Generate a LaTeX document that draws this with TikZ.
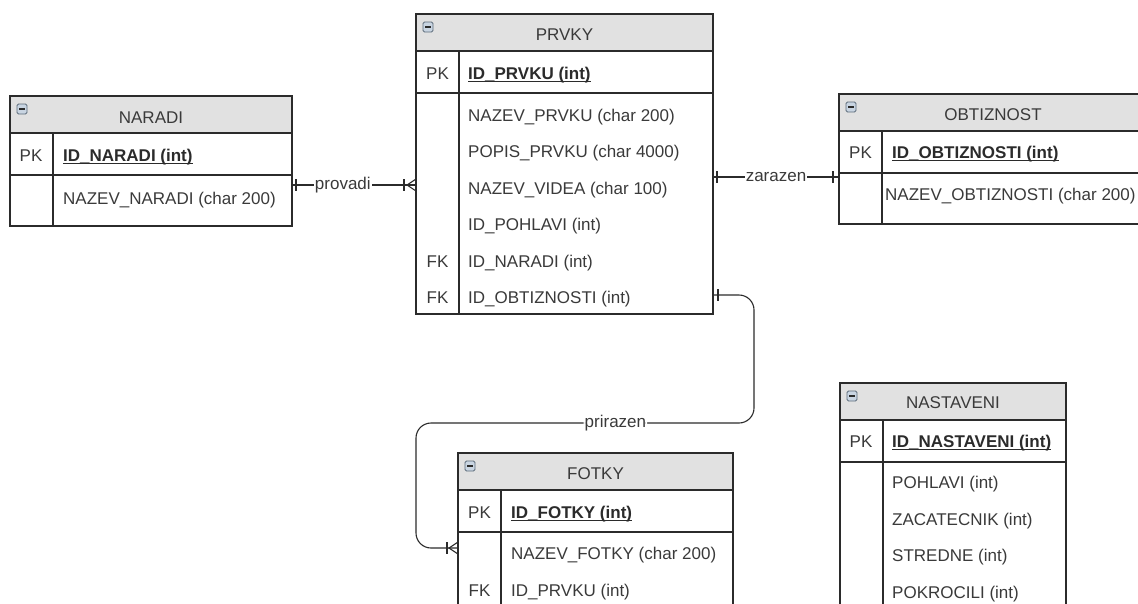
\documentclass[tikz,border=0pt]{standalone}
\usepackage{fontspec}
\setmainfont{Liberation Sans}
\usetikzlibrary{calc}
\definecolor{hdrgray}{HTML}{E1E1E1}
\definecolor{ink}{HTML}{2B2B2B}
\definecolor{txt}{HTML}{3A3A3A}
\definecolor{iconfill}{HTML}{C9D5E2}
\definecolor{iconline}{HTML}{5C6B7A}
\tikzset{
  every node/.style={font=\fontsize{17}{20}\selectfont, text=txt},
  tblbox/.style={draw=ink, line width=1.1pt, fill=white, inner sep=0, outer sep=0, anchor=north west},
  hdrbox/.style={draw=ink, line width=1.1pt, fill=hdrgray, inner sep=0, outer sep=0, anchor=north west, minimum height=37},
  tline/.style={draw=ink, line width=1.1pt},
  fld/.style={anchor=base west, inner sep=0},
  keytag/.style={anchor=base, inner sep=0},
  ttl/.style={anchor=base, inner sep=0},
  pkfld/.style={anchor=base west, inner sep=0, text=ink, font=\fontsize{17}{20}\selectfont\bfseries},
  pkline/.style={draw=ink, line width=1.3pt},
  togglebox/.style={draw=iconline, fill=iconfill, rounded corners=1.5pt, minimum size=10, inner sep=0, line width=0.8pt,
    path picture={\draw[ink, line width=1.5pt] ($(path picture bounding box.west)+(2.2,0)$) -- ($(path picture bounding box.east)+(-2.2,0)$);}},
  rel/.style={draw=ink, line width=1.1pt},
  rellabel/.style={fill=white, inner sep=1pt},
}
% Draws the frame of an entity: body, grey title bar, key row line, key column line
\newcommand\entityframe[5]{% name, x, y, width, height
  \node[tblbox, minimum width=#4, minimum height=#5] (#1) at (#2,#3) {};
  \node[hdrbox, minimum width=#4] (#1head) at (#1.north west) {};
  \node[togglebox] (#1toggle) at ($(#1.north west)+(12,13)$) {};
  \draw[tline] ($(#1head.south west)+(0,42)$) -- ++(#4,0);
  \draw[tline] ($(#1head.south west)+(43,0)$) -- ($(#1.south west)+(43,0)$);
}
% Underlined bold primary key field
\newcommand\pkfield[3]{% name, position, text
  \node[pkfld] (#1) at #2 {#3};
  \draw[pkline] ($(#1.base west)+(0,2.5)$) -- ($(#1.base east)+(0,2.5)$);
}
\begin{document}
\begin{tikzpicture}[x=1pt,y=-1pt]
\useasboundingbox (0,0) rectangle (1138,603);
\clip (0,0) rectangle (1138,603);

% ---------- NARADI ----------
\entityframe{naradi}{10}{96}{282}{130}
\node[ttl] (naradititle) at (151,123) {NARADI};
\node[keytag] (naradipk) at (31,161) {PK};
\pkfield{naradiid}{(63,161)}{ID\_NARADI (int)}
\node[fld] (naradinazev) at (63,204) {NAZEV\_NARADI (char 200)};

% ---------- PRVKY ----------
\entityframe{prvky}{416}{14}{297}{300}
\node[ttl] (prvkytitle) at (564.5,40) {PRVKY};
\node[keytag] (prvkypk) at (437.5,79) {PK};
\pkfield{prvkyid}{(468,79)}{ID\_PRVKU (int)}
\node[fld] (prvkyr1) at (468,121) {NAZEV\_PRVKU (char 200)};
\node[fld] (prvkyr2) at (468,157.5) {POPIS\_PRVKU (char 4000)};
\node[fld] (prvkyr3) at (468,194) {NAZEV\_VIDEA (char 100)};
\node[fld] (prvkyr4) at (468,230.5) {ID\_POHLAVI (int)};
\node[keytag] (prvkyfk1) at (437.5,267) {FK};
\node[fld] (prvkyr5) at (468,267) {ID\_NARADI (int)};
\node[keytag] (prvkyfk2) at (437.5,303.5) {FK};
\node[fld] (prvkyr6) at (468,303.5) {ID\_OBTIZNOSTI (int)};

% ---------- OBTIZNOST ----------
\entityframe{obtiznost}{839}{94}{308}{130}
\node[ttl] (obtiznosttitle) at (993,120) {OBTIZNOST};
\node[keytag] (obtiznostpk) at (860.5,158) {PK};
\pkfield{obtiznostid}{(892,158)}{ID\_OBTIZNOSTI (int)}
\node[fld] (obtiznostnazev) at (885,200) {NAZEV\_OBTIZNOSTI (char 200)};

% ---------- FOTKY ----------
\entityframe{fotky}{458}{453}{275}{200}
\node[ttl] (fotkytitle) at (595.5,479.5) {FOTKY};
\node[keytag] (fotkypk) at (479.5,518) {PK};
\pkfield{fotkyid}{(511,518)}{ID\_FOTKY (int)}
\node[fld] (fotkyr1) at (511,559.5) {NAZEV\_FOTKY (char 200)};
\node[keytag] (fotkyfk) at (479.5,596.5) {FK};
\node[fld] (fotkyr2) at (511,596.5) {ID\_PRVKU (int)};

% ---------- NASTAVENI ----------
\entityframe{nastaveni}{840}{383}{226}{240}
\node[ttl] (nastavenititle) at (953,408.5) {NASTAVENI};
\node[keytag] (nastavenipk) at (861,447) {PK};
\pkfield{nastaveniid}{(892,447)}{ID\_NASTAVENI (int)}
\node[fld] (nastavenir1) at (892,488.5) {POHLAVI (int)};
\node[fld] (nastavenir2) at (892,525) {ZACATECNIK (int)};
\node[fld] (nastavenir3) at (892,561.5) {STREDNE (int)};
\node[fld] (nastavenir4) at (892,598.5) {POKROCILI (int)};

% ---------- relationships ----------
% provadi: NARADI (one) -- PRVKY (many)
\coordinate (provA) at ($(naradi.north east)+(0,89)$);
\coordinate (provB) at ($(prvky.north west)+(0,171)$);
\draw[rel] (provA) -- node[rellabel, pos=0.41] (provlabel) {provadi} (provB);
\draw[rel] ($(provA)+(4,-6)$) -- ++(0,12);
\draw[rel] ($(provB)+(-12,-6)$) -- ++(0,12);
\draw[rel] ($(provB)+(0,-6)$) -- ($(provB)+(-9,0)$) -- ($(provB)+(0,6)$);

% zarazen: PRVKY (one) -- OBTIZNOST (one)
\coordinate (zarA) at ($(prvky.north east)+(0,163)$);
\coordinate (zarB) at ($(obtiznost.north west)+(0,83)$);
\draw[rel] (zarA) -- node[rellabel] (zarlabel) {zarazen} (zarB);
\draw[rel] ($(zarA)+(4,-6)$) -- ++(0,12);
\draw[rel] ($(zarB)+(-6,-6)$) -- ++(0,12);

% prirazen: PRVKY (one) -- FOTKY (many)
\coordinate (priA) at ($(prvky.north east)+(0,281)$);
\coordinate (priB) at ($(fotky.north west)+(0,95)$);
\draw[rel, rounded corners=15] (priA) -- ($(priA)+(41,0)$) -- ($(priA)+(41,128)$)
  -- node[rellabel, pos=0.41] (prilabel) {prirazen} ($(priA)+(-297,128)$)
  -- ($(priB)+(-42,0)$) -- (priB);
\draw[rel] ($(priA)+(5,-6)$) -- ++(0,12);
\draw[rel] ($(priB)+(-11,-6)$) -- ++(0,12);
\draw[rel] ($(priB)+(0,-6)$) -- ($(priB)+(-9,0)$) -- ($(priB)+(0,6)$);
\end{tikzpicture}
\end{document}
